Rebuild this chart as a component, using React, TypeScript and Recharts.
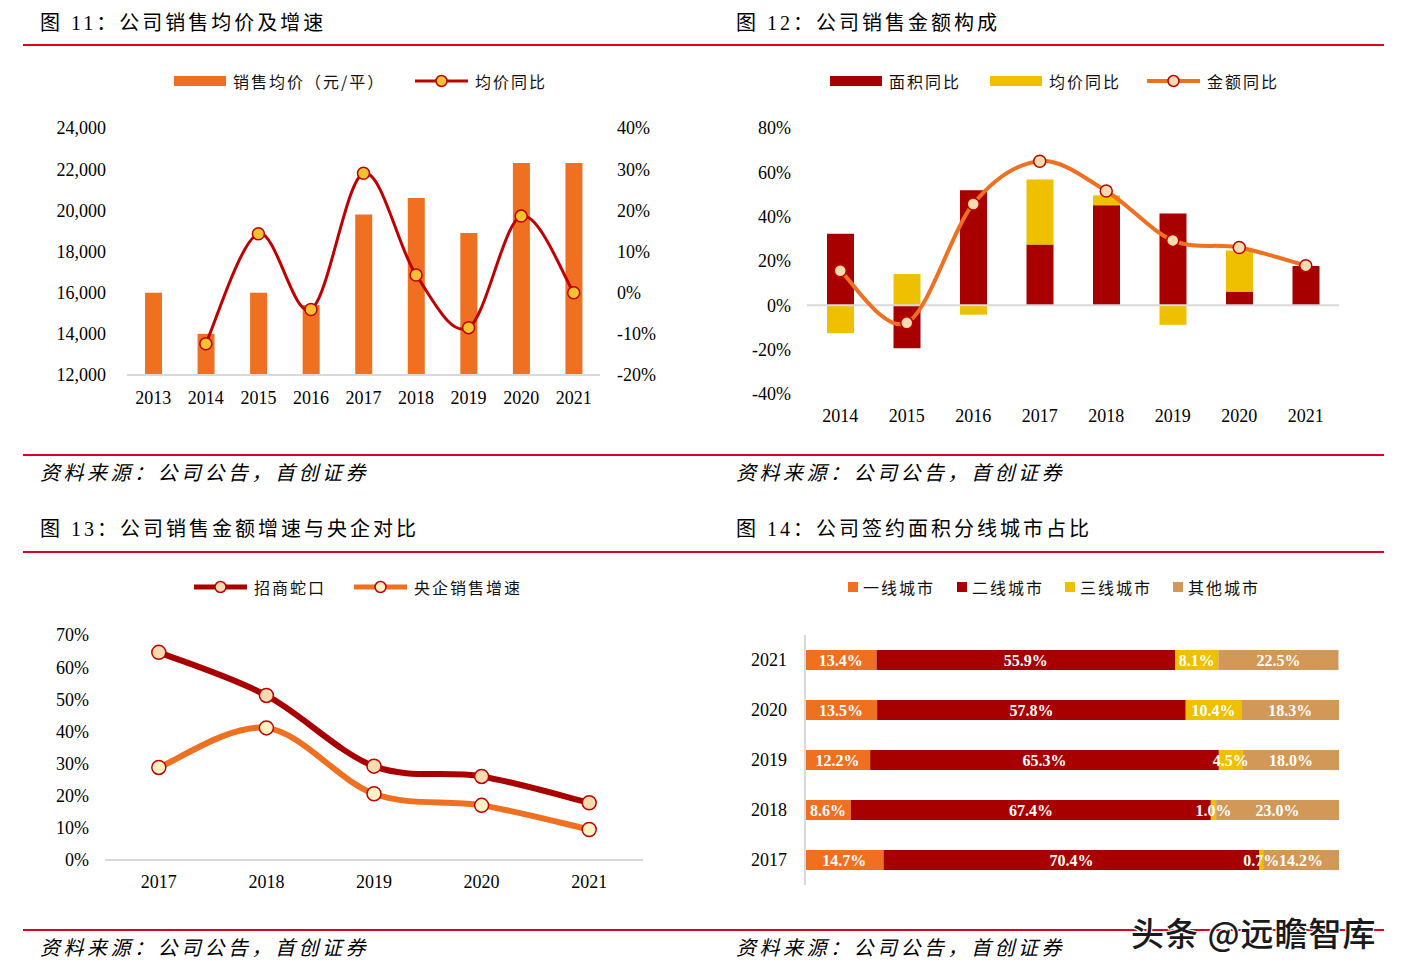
import React from 'react';
import {
  ComposedChart,
  BarChart,
  Bar,
  Line,
  XAxis,
  YAxis,
  Legend,
  ReferenceLine,
  LabelList,
} from 'recharts';

const SERIF = "'Liberation Serif', 'Times New Roman', 'Noto Sans CJK SC', serif";
const CJK = "'Noto Sans CJK SC', 'Liberation Serif', sans-serif";

// ---------- 图11 ----------
const years11 = ['2013', '2014', '2015', '2016', '2017', '2018', '2019', '2020', '2021'];
const avgPrice11 = [16000, 14000, 16000, 15400, 19800, 20600, 18900, 22300, 22300];
const priceYoY11: (number | null)[] = [null, -12.4, 14.3, -4.1, 29.0, 4.3, -8.5, 18.6, 0];
const leftTicks11 = [12000, 14000, 16000, 18000, 20000, 22000, 24000];
const rightTicks11 = [-20, -10, 0, 10, 20, 30, 40];

// ---------- 图12 ----------
const years12 = ['2014', '2015', '2016', '2017', '2018', '2019', '2020', '2021'];
const areaYoY12 = [32.3, -19.4, 51.9, 27.5, 45.2, 41.4, 6.2, 17.8];
const priceYoY12 = [-12.6, 14.1, -4.2, 29.3, 4.4, -8.8, 18.5, 0];
const amountYoY12 = [15.6, -7.9, 45.7, 65.0, 51.6, 29.3, 26.1, 17.9];
const ticks12 = [-40, -20, 0, 20, 40, 60, 80];

// ---------- 图13 ----------
const years13 = ['2017', '2018', '2019', '2020', '2021'];
const cmsk13 = [64.6, 51.2, 29.2, 26.0, 17.8];
const soe13 = [28.8, 41.1, 20.6, 17.0, 9.5];
const ticks13 = [0, 10, 20, 30, 40, 50, 60, 70];

// ---------- 图14 ----------
const years14 = ['2021', '2020', '2019', '2018', '2017'];
const tier1 = [13.4, 13.5, 12.2, 8.6, 14.7];
const tier2 = [55.9, 57.8, 65.3, 67.4, 70.4];
const tier3 = [8.1, 10.4, 4.5, 1.0, 0.7];
const tierOther = [22.5, 18.3, 18.0, 23.0, 14.2];

const data11 = years11.map((y, i) => ({ year: y, price: avgPrice11[i], yoy: priceYoY11[i] }));
const data12 = years12.map((y, i) => ({ year: y, area: areaYoY12[i], price: priceYoY12[i], amount: amountYoY12[i] }));
const data13 = years13.map((y, i) => ({ year: y, cmsk: cmsk13[i], soe: soe13[i] }));
const data14 = years14.map((y, i) => ({ year: y, t1: tier1[i], t2: tier2[i], t3: tier3[i], t4: tierOther[i] }));

const C_ORANGE = '#EE7020';
const C_DARKRED = '#A80000';
const C_RED = '#C00000';
const C_YELLOW = '#EEC000';
const C_TAN = '#D19858';
const C_GRAY = '#D9D9D9';

// Excel-like smoothed line (Catmull-Rom)
const excelSmooth: any = (context: any) => {
  let pts: number[][] = [];
  return {
    areaStart() {},
    areaEnd() {},
    lineStart() {
      pts = [];
    },
    point(x: number, y: number) {
      pts.push([+x, +y]);
    },
    lineEnd() {
      const n = pts.length;
      if (!n) return;
      context.moveTo(pts[0][0], pts[0][1]);
      if (n === 2) {
        context.lineTo(pts[1][0], pts[1][1]);
        return;
      }
      for (let i = 0; i < n - 1; i++) {
        const p0 = pts[i - 1] || pts[i];
        const p1 = pts[i];
        const p2 = pts[i + 1];
        const p3 = pts[i + 2] || p2;
        const c1x = p1[0] + (p2[0] - p0[0]) / 6;
        const c1y = p1[1] + (p2[1] - p0[1]) / 6;
        const c2x = p2[0] - (p3[0] - p1[0]) / 6;
        const c2y = p2[1] - (p3[1] - p1[1]) / 6;
        context.bezierCurveTo(c1x, c1y, c2x, c2y, p2[0], p2[1]);
      }
    },
  };
};

type LegendItem = {
  label: string;
  kind: 'rect' | 'square' | 'line';
  color: string;
  x: number;
  dotFill?: string;
  dotStroke?: string;
  lineWidth?: number;
  gap?: number;
};

const Swatch = ({ it }: { it: LegendItem }) => {
  if (it.kind === 'rect') return <div style={{ width: 52, height: 10, background: it.color }} />;
  if (it.kind === 'square') return <div style={{ width: 10, height: 10, background: it.color }} />;
  return (
    <svg width={53} height={16} style={{ display: 'block' }}>
      <line x1={0} y1={8} x2={53} y2={8} stroke={it.color} strokeWidth={it.lineWidth || 3} strokeLinecap="round" />
      <circle cx={26.5} cy={8} r={5.5} fill={it.dotFill} stroke={it.dotStroke} strokeWidth={1.5} />
    </svg>
  );
};

const makeLegend = (items: LegendItem[]) => () => (
  <div style={{ position: 'relative', height: 20 }}>
    {items.map((it) => (
      <div
        key={it.label}
        style={{ position: 'absolute', left: it.x, top: 0, height: 20, display: 'flex', alignItems: 'center', whiteSpace: 'nowrap' }}
      >
        <Swatch it={it} />
        <span style={{ marginLeft: it.gap ?? 7, fontFamily: CJK, fontSize: 16, letterSpacing: 2, color: '#111' }}>{it.label}</span>
      </div>
    ))}
  </div>
);

const legend11 = makeLegend([
  { label: '销售均价（元/平）', kind: 'rect', color: C_ORANGE, x: 154 },
  { label: '均价同比', kind: 'line', color: C_RED, x: 395, dotFill: '#F2C230', dotStroke: C_RED, lineWidth: 3 },
]);
const legend12 = makeLegend([
  { label: '面积同比', kind: 'rect', color: C_DARKRED, x: 110 },
  { label: '均价同比', kind: 'rect', color: C_YELLOW, x: 270 },
  { label: '金额同比', kind: 'line', color: C_ORANGE, x: 427, dotFill: '#F8DCB0', dotStroke: C_RED, lineWidth: 4 },
]);
const legend13 = makeLegend([
  { label: '招商蛇口', kind: 'line', color: C_DARKRED, x: 174, dotFill: '#F8DCB0', dotStroke: C_RED, lineWidth: 5 },
  { label: '央企销售增速', kind: 'line', color: C_ORANGE, x: 334, dotFill: '#FFF2C4', dotStroke: C_RED, lineWidth: 5 },
]);
const legend14 = makeLegend([
  { label: '一线城市', kind: 'square', color: C_ORANGE, x: 128, gap: 5 },
  { label: '二线城市', kind: 'square', color: C_DARKRED, x: 237, gap: 5 },
  { label: '三线城市', kind: 'square', color: C_YELLOW, x: 345, gap: 5 },
  { label: '其他城市', kind: 'square', color: C_TAN, x: 453, gap: 5 },
]);

const tickStyle = { fill: '#000', fontSize: 18, fontFamily: SERIF };
const pct = (v: any) => `${v}%`;

const legendProps = (top: number) => ({
  layout: 'horizontal' as const,
  verticalAlign: 'middle' as const,
  align: 'center' as const,
  wrapperStyle: { top, left: 0, width: 680, height: 20 },
});

const Chart11 = () => (
  <ComposedChart width={680} height={380} data={data11} margin={{ top: 68, right: 0, bottom: 0, left: 0 }}>
    <Legend {...legendProps(11)} content={legend11} />
    <XAxis
      dataKey="year"
      height={65}
      tickLine={false}
      tickMargin={10}
      axisLine={{ stroke: C_GRAY, strokeWidth: 2 }}
      tick={tickStyle}
      interval={0}
    />
    <YAxis
      yAxisId="left"
      width={107}
      domain={[12000, 24000]}
      ticks={leftTicks11}
      allowDataOverflow
      axisLine={false}
      tickLine={false}
      tickMargin={15}
      tick={tickStyle}
      tickFormatter={(v: number) => v.toLocaleString('en-US')}
    />
    <YAxis
      yAxisId="right"
      orientation="right"
      width={100}
      domain={[-20, 40]}
      ticks={rightTicks11}
      axisLine={false}
      tickLine={false}
      tickMargin={11}
      tick={{ ...tickStyle, textAnchor: 'start' }}
      tickFormatter={pct}
    />
    <Bar yAxisId="left" dataKey="price" fill={C_ORANGE} barSize={17} isAnimationActive={false} />
    <Line
      yAxisId="right"
      dataKey="yoy"
      type={excelSmooth}
      stroke={C_RED}
      strokeWidth={3}
      dot={{ r: 6, fill: '#F2C230', stroke: C_RED, strokeWidth: 1.5 }}
      activeDot={false}
      isAnimationActive={false}
    />
  </ComposedChart>
);

const Chart12 = () => (
  <ComposedChart
    width={680}
    height={380}
    data={data12}
    stackOffset="sign"
    margin={{ top: 68, right: 61, bottom: 0, left: 0 }}
  >
    <Legend {...legendProps(11)} content={legend12} />
    <XAxis dataKey="year" height={46} tickLine={false} axisLine={false} tickMargin={9} tick={tickStyle} interval={0} />
    <YAxis
      width={87}
      domain={[-40, 80]}
      ticks={ticks12}
      axisLine={false}
      tickLine={false}
      tickMargin={10}
      tick={tickStyle}
      tickFormatter={pct}
    />
    <ReferenceLine y={0} stroke={C_GRAY} strokeWidth={2} />
    <Bar dataKey="area" stackId="s" fill={C_DARKRED} barSize={27} isAnimationActive={false} />
    <Bar dataKey="price" stackId="s" fill={C_YELLOW} barSize={27} isAnimationActive={false} />
    <Line
      dataKey="amount"
      type={excelSmooth}
      stroke={C_ORANGE}
      strokeWidth={4}
      dot={{ r: 6, fill: '#F8DCB0', stroke: C_RED, strokeWidth: 1.5 }}
      activeDot={false}
      isAnimationActive={false}
    />
  </ComposedChart>
);

const Chart13 = () => (
  <ComposedChart width={680} height={360} data={data13} margin={{ top: 75, right: 57, bottom: 0, left: 0 }}>
    <Legend {...legendProps(17)} content={legend13} />
    <XAxis
      dataKey="year"
      scale="band"
      height={60}
      tickLine={false}
      tickMargin={9}
      axisLine={{ stroke: C_GRAY, strokeWidth: 2 }}
      tick={tickStyle}
      interval={0}
    />
    <YAxis
      width={85}
      domain={[0, 70]}
      ticks={ticks13}
      axisLine={false}
      tickLine={false}
      tickMargin={10}
      tick={tickStyle}
      tickFormatter={pct}
    />
    <Line
      dataKey="cmsk"
      type={excelSmooth}
      stroke={C_DARKRED}
      strokeWidth={6}
      dot={{ r: 7, fill: '#F8DCB0', stroke: C_RED, strokeWidth: 1.5 }}
      activeDot={false}
      isAnimationActive={false}
    />
    <Line
      dataKey="soe"
      type={excelSmooth}
      stroke={C_ORANGE}
      strokeWidth={6}
      dot={{ r: 7, fill: '#FFF2C4', stroke: C_RED, strokeWidth: 1.5 }}
      activeDot={false}
      isAnimationActive={false}
    />
  </ComposedChart>
);

const labelProps = {
  position: 'center' as const,
  fill: '#fff',
  fontSize: 16,
  fontWeight: 'bold',
  fontFamily: SERIF,
  formatter: (v: any) => `${Number(v).toFixed(1)}%`,
};

const Chart14 = () => (
  <BarChart
    width={680}
    height={360}
    data={data14}
    layout="vertical"
    margin={{ top: 75, right: 61, bottom: 35, left: 0 }}
  >
    <Legend {...legendProps(17)} content={legend14} />
    <XAxis type="number" domain={[0, 100]} hide allowDataOverflow />
    <YAxis
      type="category"
      dataKey="year"
      width={85}
      axisLine={{ stroke: C_GRAY, strokeWidth: 2 }}
      tickLine={false}
      tickMargin={12}
      tick={tickStyle}
      interval={0}
    />
    <Bar dataKey="t1" stackId="s" fill={C_ORANGE} barSize={20} isAnimationActive={false}>
      <LabelList dataKey="t1" {...labelProps} />
    </Bar>
    <Bar dataKey="t2" stackId="s" fill={C_DARKRED} barSize={20} isAnimationActive={false}>
      <LabelList dataKey="t2" {...labelProps} />
    </Bar>
    <Bar dataKey="t3" stackId="s" fill={C_YELLOW} barSize={20} isAnimationActive={false}>
      <LabelList dataKey="t3" {...labelProps} />
    </Bar>
    <Bar dataKey="t4" stackId="s" fill={C_TAN} barSize={20} isAnimationActive={false}>
      <LabelList dataKey="t4" {...labelProps} />
    </Bar>
  </BarChart>
);

const titleStyle: React.CSSProperties = {
  position: 'absolute',
  fontFamily: SERIF,
  fontSize: 20,
  letterSpacing: 3,
  color: '#000',
  whiteSpace: 'nowrap',
  lineHeight: '26px',
};
const sourceStyle: React.CSSProperties = {
  position: 'absolute',
  fontFamily: CJK,
  fontSize: 20,
  letterSpacing: 3.5,
  fontStyle: 'italic',
  color: '#000',
  whiteSpace: 'nowrap',
  lineHeight: '26px',
};
const rule = (top: number): React.CSSProperties => ({
  position: 'absolute',
  left: 23,
  top,
  width: 1361,
  height: 2,
  background: '#E0001B',
});

export default function App() {
  return (
    <div style={{ position: 'absolute', left: 0, top: 0, width: 1418, height: 977, background: '#fff', overflow: 'hidden' }}>
      <div style={{ ...titleStyle, left: 40, top: 10 }}>图 11：公司销售均价及增速</div>
      <div style={{ ...titleStyle, left: 736, top: 10 }}>图 12：公司销售金额构成</div>
      <div style={rule(44)} />

      <div style={{ position: 'absolute', left: 20, top: 60 }}>
        <Chart11 />
      </div>
      <div style={{ position: 'absolute', left: 720, top: 60 }}>
        <Chart12 />
      </div>

      <div style={rule(454)} />
      <div style={{ ...sourceStyle, left: 40, top: 459 }}>资料来源：公司公告，首创证券</div>
      <div style={{ ...sourceStyle, left: 736, top: 459 }}>资料来源：公司公告，首创证券</div>

      <div style={{ ...titleStyle, left: 40, top: 516 }}>图 13：公司销售金额增速与央企对比</div>
      <div style={{ ...titleStyle, left: 736, top: 516 }}>图 14：公司签约面积分线城市占比</div>
      <div style={rule(551)} />

      <div style={{ position: 'absolute', left: 20, top: 560 }}>
        <Chart13 />
      </div>
      <div style={{ position: 'absolute', left: 720, top: 560 }}>
        <Chart14 />
      </div>

      <div style={rule(929)} />
      <div style={{ ...sourceStyle, left: 40, top: 934 }}>资料来源：公司公告，首创证券</div>
      <div style={{ ...sourceStyle, left: 736, top: 934 }}>资料来源：公司公告，首创证券</div>

      <div
        style={{
          position: 'absolute',
          left: 1131,
          top: 908,
          fontFamily: CJK,
          fontSize: 33,
          fontWeight: 500,
          color: '#1a1a1a',
          whiteSpace: 'nowrap',
          letterSpacing: 1,
          textShadow: '1px 1px 0 #fff, -1px -1px 0 #fff, 1px -1px 0 #fff, -1px 1px 0 #fff',
        }}
      >
        头条 @远瞻智库
      </div>
    </div>
  );
}
